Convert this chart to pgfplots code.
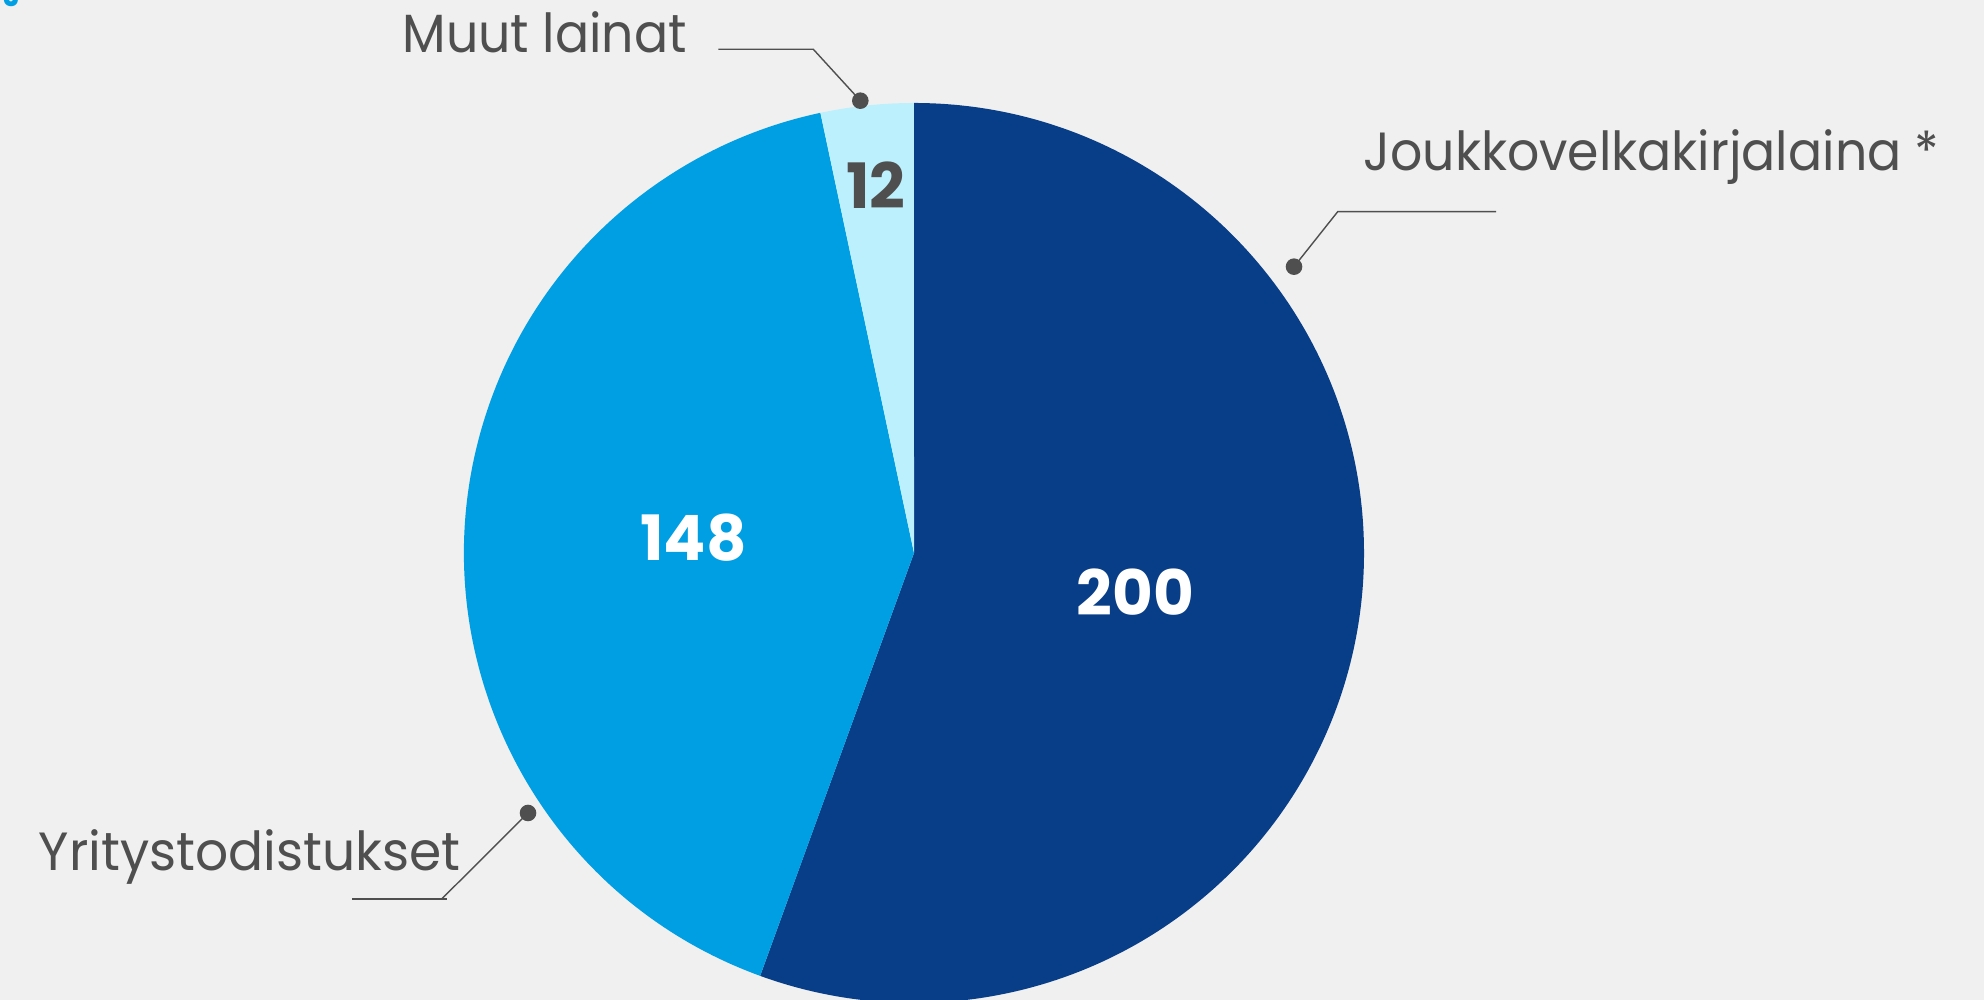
\documentclass[border=0pt]{standalone}
\usepackage{pgfplots}
\pgfplotsset{compat=1.18}
\usepackage{pgfplotstable}
\usepackage{fontspec}
\setmainfont{Poppins}[FakeStretch=0.94]
\newfontfamily\numfont{Poppins}
\definecolor{bg}{HTML}{F0F0F0}
\definecolor{darkblue}{HTML}{083D87}
\definecolor{midblue}{HTML}{009FE3}
\definecolor{lightblue}{HTML}{BDF0FD}
\definecolor{txtgray}{HTML}{4F4F4F}
\pgfplotstableread{
name value
Joukkovelkakirjalaina 200
Yritystodistukset 148
Muut 12
}\piedata
\begin{document}
\begin{tikzpicture}
\path[use as bounding box] (0,0) rectangle (19.84,10);
\fill[bg] (0,0) rectangle (19.84,10);
\pgfplotstablegetelem{0}{value}\of\piedata \let\vA\pgfplotsretval
\pgfplotstablegetelem{1}{value}\of\piedata \let\vB\pgfplotsretval
\pgfplotstablegetelem{2}{value}\of\piedata \let\vC\pgfplotsretval
\pgfmathsetmacro{\tot}{\vA+\vB+\vC}
\pgfmathsetmacro{\sA}{90}
\pgfmathsetmacro{\eA}{90-360*(\vA/\tot)}
\pgfmathsetmacro{\eB}{\eA-360*(\vB/\tot)}
\pgfmathsetmacro{\eC}{\eB-360*(\vC/\tot)}
\begin{axis}[
  at={(0,0)}, anchor=south west,
  x=1cm, y=1cm,
  xmin=0, xmax=19.84, ymin=0, ymax=10,
  hide axis, clip=true,
]
\fill[darkblue] (axis cs:9.14,4.47) -- ++(\sA:4.5) arc[start angle=\sA, end angle=\eA, radius=4.5] -- cycle;
\fill[midblue] (axis cs:9.14,4.47) -- ++(\eA:4.5) arc[start angle=\eA, end angle=\eB, radius=4.5] -- cycle;
\fill[lightblue] (axis cs:9.14,4.47) -- ++(\eB:4.5) arc[start angle=\eB, end angle=\eC, radius=4.5] -- cycle;
% value labels
\node[inner sep=0, text=white, font=\numfont\bfseries\fontsize{17.8}{21}\selectfont] at (axis cs:11.353,4.082) {\vA};
\node[inner sep=0, text=white, font=\numfont\bfseries\fontsize{17.8}{21}\selectfont] at (axis cs:6.934,4.625) {\vB};
\node[inner sep=0, text=txtgray, font=\numfont\bfseries\fontsize{17.8}{21}\selectfont] at (axis cs:8.76,8.147) {\vC};
% leader lines
\draw[txtgray, line width=0.4pt] (axis cs:7.183,9.507) -- (axis cs:8.133,9.507) -- (axis cs:8.603,8.993);
\fill[txtgray] (axis cs:8.603,8.993) circle[radius=0.083];
\draw[txtgray, line width=0.4pt] (axis cs:14.96,7.883) -- (axis cs:13.377,7.883) -- (axis cs:12.94,7.333);
\fill[txtgray] (axis cs:12.94,7.333) circle[radius=0.083];
\draw[txtgray, line width=0.4pt] (axis cs:3.523,1.01) -- (axis cs:4.47,1.01);
\draw[txtgray, line width=0.4pt] (axis cs:4.417,1.01) -- (axis cs:5.28,1.87);
\fill[txtgray] (axis cs:5.28,1.87) circle[radius=0.083];
% category labels
\node[anchor=base west, inner sep=0, text=txtgray, font=\fontsize{15.3}{19}\selectfont] at (axis cs:4.02,9.473) {Muut lainat};
\node[anchor=base west, inner sep=0, text=txtgray, font=\fontsize{15.3}{19}\selectfont] at (axis cs:13.63,8.293) {Joukkovelkakirjalaina *};
\node[anchor=base west, inner sep=0, text=txtgray, font=\fontsize{15.3}{19}\selectfont\addfontfeatures{FakeStretch=0.965}] at (axis cs:0.38,1.29) {Yritystodistukset};
% clipped title fragment
\node[anchor=base west, inner sep=0, text=midblue, font=\bfseries\fontsize{9}{10}\selectfont] at (axis cs:0.03,9.93) {J};
\end{axis}
\end{tikzpicture}
\end{document}
